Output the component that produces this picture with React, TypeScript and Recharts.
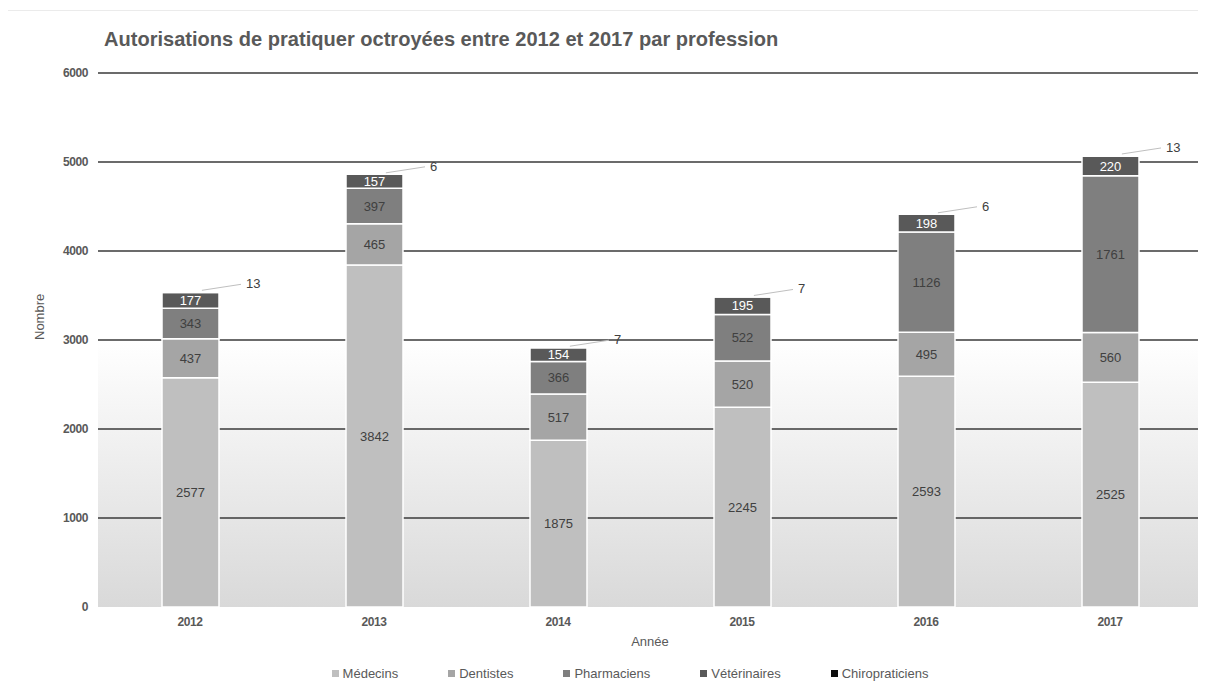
import { Bar, BarChart, CartesianGrid, LabelList, Legend, XAxis, YAxis } from 'recharts';

const years = ['2012', '2013', '2014', '2015', '2016', '2017'];
const medecins = [2577, 3842, 1875, 2245, 2593, 2525];
const dentistes = [437, 465, 517, 520, 495, 560];
const pharmaciens = [343, 397, 366, 522, 1126, 1761];
const veterinaires = [177, 157, 154, 195, 198, 220];
const chiropraticiens = [13, 6, 7, 7, 6, 13];
const yTicks = [0, 1000, 2000, 3000, 4000, 5000, 6000];
const yMax = 6000;

const series = [
  { key: 'medecins', name: 'Médecins', color: '#bfbfbf', text: '#404040' },
  { key: 'dentistes', name: 'Dentistes', color: '#a5a5a5', text: '#404040' },
  { key: 'pharmaciens', name: 'Pharmaciens', color: '#7f7f7f', text: '#404040' },
  { key: 'veterinaires', name: 'Vétérinaires', color: '#595959', text: '#ffffff' },
  { key: 'chiropraticiens', name: 'Chiropraticiens', color: '#0d0d0d', text: '#404040' },
];

const data = years.map((year, i) => ({
  year,
  medecins: medecins[i],
  dentistes: dentistes[i],
  pharmaciens: pharmaciens[i],
  veterinaires: veterinaires[i],
  chiropraticiens: chiropraticiens[i],
}));

const regular = "'Liberation Sans', Arial, sans-serif";

const ChiroLabel = (props: any) => {
  const { x, y, width, value } = props;
  const x0 = x + width * 0.7;
  const x1 = x + width + 22;
  return (
    <g>
      <line x1={x0} y1={y - 1} x2={x1} y2={y - 7} stroke="#bfbfbf" strokeWidth={1} />
      <text x={x1 + 5} y={y - 3} fontSize={13} fill="#404040" fontFamily={regular}>
        {value}
      </text>
    </g>
  );
};

// narrow-looking bold tick text
const NarrowTick = (props: any) => {
  const { x, y, payload, textAnchor, shift = 4 } = props;
  return (
    <text
      x={x}
      y={y}
      dy={shift}
      textAnchor={textAnchor}
      fontSize={12}
      fontWeight="bold"
      fill="#595959"
      fontFamily={regular}
      letterSpacing={-0.4}
    >
      {payload.value}
    </text>
  );
};

// grid lines for every tick except the zero line
const gridRows = ({ yAxis, offset }: any) => {
  const s = yAxis && yAxis.scale;
  const toY =
    typeof s === 'function'
      ? (t: number) => s(t)
      : s && typeof s.map === 'function'
      ? (t: number) => s.map(t)
      : (t: number) => offset.top + offset.height * (1 - t / yMax);
  return yTicks.filter((t) => t > 0).map(toY);
};

const LegendContent = () => (
  <div
    style={{
      display: 'flex',
      justifyContent: 'center',
      gap: 50,
      fontFamily: regular,
      fontSize: 13,
      color: '#595959',
      marginLeft: 50,
      paddingTop: 9,
    }}
  >
    {series.map((s) => (
      <span key={s.key} style={{ display: 'flex', alignItems: 'center' }}>
        <span style={{ width: 7, height: 7, background: s.color, marginRight: 4, display: 'inline-block' }} />
        {s.name}
      </span>
    ))}
  </div>
);

export default function App() {
  return (
    <div style={{ position: 'relative', width: 1198, height: 685 }}>
      <div style={{ position: 'absolute', top: 2, left: -3, width: 1201, borderTop: '1px solid #ebebeb' }} />
      <div
        style={{
          position: 'absolute',
          top: 19,
          left: 96,
          fontFamily: regular,
          fontWeight: 'bold',
          fontSize: 21,
          color: '#595959',
          whiteSpace: 'nowrap',
          transform: 'scaleX(0.955)',
          transformOrigin: 'left top',
        }}
      >
        Autorisations de pratiquer octroyées entre 2012 et 2017 par profession
      </div>
      <BarChart
        width={1198}
        height={685}
        data={data}
        margin={{ top: 65, right: 4, bottom: 0, left: 0 }}
        barSize={57}
      >
        <defs>
          <linearGradient id="bg" x1="0" y1="0" x2="0" y2="1">
            <stop offset="0.5" stopColor="#ffffff" />
            <stop offset="1" stopColor="#d9d9d9" />
          </linearGradient>
        </defs>
        <CartesianGrid
          vertical={false}
          stroke="#3a3a3a"
          strokeWidth={1.4}
          fill="url(#bg)"
          horizontalCoordinatesGenerator={gridRows}
        />
        <XAxis
          dataKey="year"
          axisLine={false}
          tickLine={false}
          height={50}
          tick={<NarrowTick shift={8.5} />}
          tickMargin={4}
          label={{ value: 'Année', position: 'insideBottom', offset: 11, fontSize: 13, fill: '#595959', fontFamily: regular }}
        />
        <YAxis
          domain={[0, yMax]}
          ticks={yTicks}
          axisLine={false}
          tickLine={false}
          width={90}
          tick={<NarrowTick shift={4} />}
          tickMargin={4}
          label={{ value: 'Nombre', angle: -90, position: 'insideLeft', offset: 31, fontSize: 13, fill: '#595959', fontFamily: regular }}
        />
        <Legend verticalAlign="bottom" height={36} content={<LegendContent />} />
        {series.map((s) => (
          <Bar
            key={s.key}
            dataKey={s.key}
            name={s.name}
            stackId="a"
            fill={s.color}
            stroke="#ffffff"
            strokeWidth={1.5}
            isAnimationActive={false}
          >
            {s.key === 'chiropraticiens' ? (
              <LabelList dataKey={s.key} content={<ChiroLabel />} />
            ) : (
              <LabelList
                dataKey={s.key}
                position="center"
                fontSize={13}
                fill={s.text}
                fontFamily={regular}
              />
            )}
          </Bar>
        ))}
      </BarChart>
    </div>
  );
}
